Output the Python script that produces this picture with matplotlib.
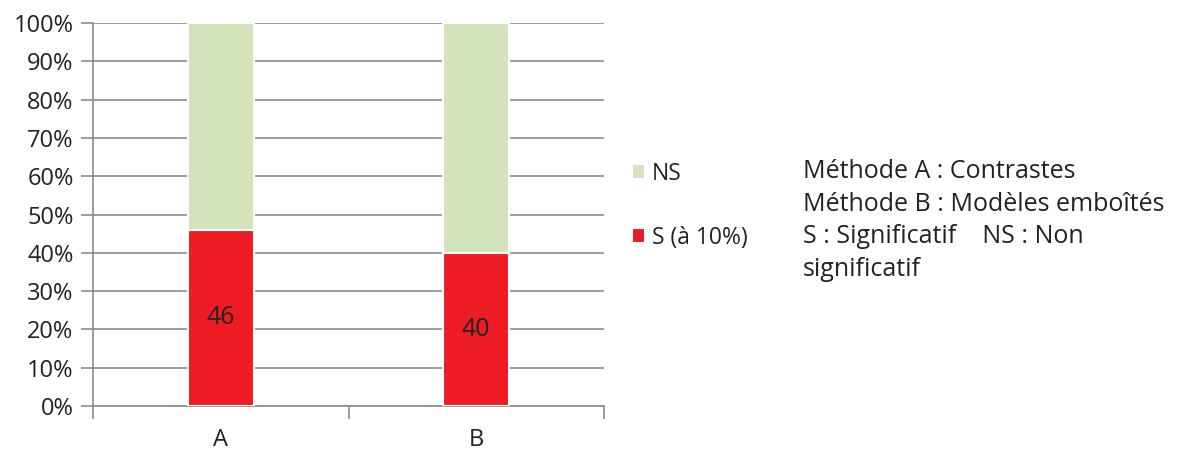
import matplotlib.pyplot as plt
import numpy as np

# data (percent of tests)
categories = ['A', 'B']
s_values = [46, 40]
ns_values = [54, 60]
series_names = ['S (à 10%)', 'NS']
note_lines = ['Méthode A : Contrastes',
              'Méthode B : Modèles emboîtés',
              'S : Significatif    NS : Non',
              'significatif']

RED = '#ED1C24'
GREEN = '#D4E3BC'
GRID = '#8C8C8C'
TEXT = '#222222'

plt.rcParams['font.family'] = ['Open Sans', 'DejaVu Sans']

fig = plt.figure(figsize=(11.82, 4.5), dpi=100)
ax = fig.add_axes([93 / 1182, 1 - 406 / 450, 511 / 1182, 383 / 450])

x = np.arange(len(categories))
width = 0.26
bar_s = ax.bar(x, s_values, width, color=RED, edgecolor='white', linewidth=1.5,
               zorder=3, label=series_names[0])
bar_ns = ax.bar(x, ns_values, width, bottom=s_values, color=GREEN, edgecolor='white',
                linewidth=1.5, zorder=3, label=series_names[1])

for xi, v in zip(x, s_values):
    ax.text(xi, v / 2, str(v), ha='center', va='center', fontsize=18, color=TEXT, zorder=4)

ax.set_xlim(-0.5, len(categories) - 0.5)
ax.set_ylim(0, 100)
ax.set_yticks(np.arange(0, 101, 10))
ax.set_yticklabels(['{}%'.format(v) for v in range(0, 101, 10)], fontsize=17, color=TEXT)
ax.yaxis.grid(True, color=GRID, linewidth=1.2, zorder=0)

ax.set_xticks(x)
ax.set_xticklabels(categories, fontsize=17, color=TEXT)
ax.tick_params(axis='x', length=0, pad=16)
ax.tick_params(axis='y', length=9, width=1.2, color=GRID, pad=5)
# boundary ticks between categories
ax.set_xticks(np.arange(-0.5, len(categories), 1), minor=True)
ax.tick_params(axis='x', which='minor', length=9, width=1.2, color=GRID)

for side in ['top', 'right']:
    ax.spines[side].set_visible(False)
ax.spines['left'].set_color(GRID)
ax.spines['bottom'].set_color(GRID)
ax.spines['left'].set_linewidth(1.2)
ax.spines['bottom'].set_linewidth(1.2)

handles = [bar_ns, bar_s]
fig.legend(handles, [series_names[1], series_names[0]], loc='upper left',
           bbox_to_anchor=(611 / 1182, 1 - 141 / 450), frameon=False, fontsize=16.5,
           handlelength=0.6, handleheight=0.6, handletextpad=0.3, labelspacing=1.75,
           labelcolor=TEXT)

for i, line in enumerate(note_lines):
    fig.text(803 / 1182, 1 - (171 + 33 * i) / 450, line, ha='left', va='center',
             fontsize=18, color=TEXT)

fig.savefig('out.png', dpi=100)
